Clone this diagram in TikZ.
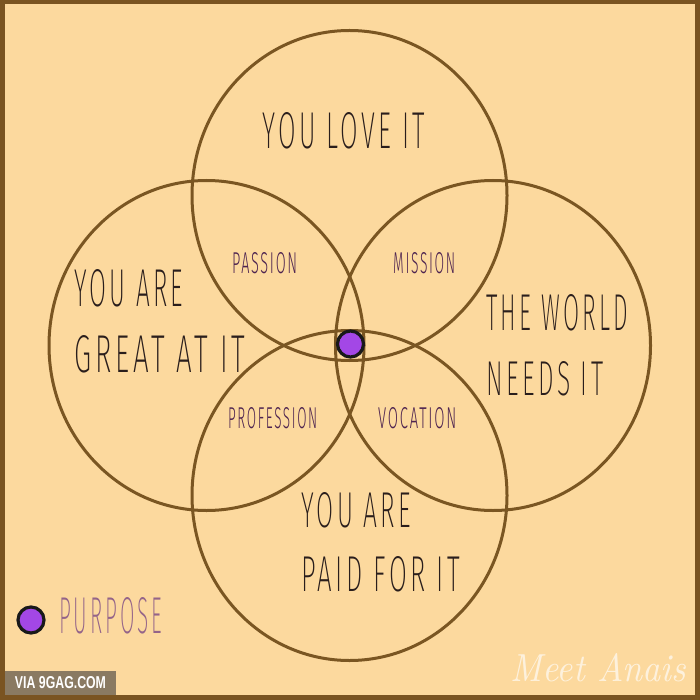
\documentclass[tikz,border=0pt]{standalone}
\usepackage{fontspec}
\newfontfamily\hand{Fira Sans ExtraLight}[LetterSpace=14]
\newfontfamily\handsmall{Fira Sans Light}[LetterSpace=12]
\newfontfamily\gagfont{Liberation Sans}
\definecolor{bgc}{HTML}{FCD99E}
\definecolor{framec}{HTML}{7A5421}
\definecolor{ringc}{HTML}{7A5622}
\definecolor{inkc}{HTML}{2A1E1C}
\definecolor{plabc}{HTML}{4E2450}
\definecolor{purpc}{HTML}{946489}
\definecolor{dotc}{HTML}{A347E6}
\definecolor{gagc}{HTML}{8A7A62}
\newcommand{\fitlab}[3]{\resizebox{#1pt}{#2pt}{\hand #3}}
\newcommand{\fitsmall}[3]{\resizebox{#1pt}{#2pt}{\handsmall #3}}
\tikzset{
  ring/.style={draw=ringc, line width=3pt},
  mainlab/.style={inner sep=0pt, anchor=west, text=inkc},
  overlab/.style={inner sep=0pt, anchor=west, text=plabc},
  dotnode/.style={circle, fill=dotc, draw=black!90, line width=3.2pt, minimum size=26pt, inner sep=0pt},
}
\begin{document}
\begin{tikzpicture}[x=1pt,y=-1pt]
\useasboundingbox (0,0) rectangle (700,700);
\fill[framec] (0,0) rectangle (700,700);
\fill[bgc] (5,4.5) rectangle (695,695);
% rings
\draw[ring] (349.5,195.5) ellipse [x radius=157.5pt, y radius=165pt];
\draw[ring] (206.5,345.5) ellipse [x radius=157.5pt, y radius=165pt];
\draw[ring] (493,345.5) ellipse [x radius=157.5pt, y radius=165pt];
\draw[ring] (349.5,495.5) ellipse [x radius=157.5pt, y radius=165pt];
% main labels
\node[mainlab] (love) at (262,131) {\fitlab{163}{36}{YOU LOVE IT}};
\node[mainlab] (great1) at (74,288.5) {\fitlab{109}{37}{YOU ARE}};
\node[mainlab] (great2) at (74,354.5) {\fitlab{171}{37}{GREAT AT IT}};
\node[mainlab] (world1) at (486,313) {\fitlab{142}{36}{THE WORLD}};
\node[mainlab] (world2) at (486,379) {\fitlab{117}{34}{NEEDS IT}};
\node[mainlab] (paid1) at (301,510.5) {\fitlab{110}{35}{YOU ARE}};
\node[mainlab] (paid2) at (301,574.5) {\fitlab{159}{35}{PAID FOR IT}};
% overlap labels
\node[overlab] (passion) at (232,263.5) {\fitsmall{65}{21}{PASSION}};
\node[overlab] (mission) at (393,263.5) {\fitsmall{62}{21}{MISSION}};
\node[overlab] (profession) at (228,418.5) {\fitsmall{89}{21}{PROFESSION}};
\node[overlab] (vocation) at (378,418.5) {\fitsmall{78}{21}{VOCATION}};
% purpose dot
\node[dotnode] (centre) at (350.5,344) {};
% legend
\node[dotnode] (legdot) at (31,620) {};
\node[inner sep=0pt, anchor=west, text=purpc] (purpose) at (59,616) {\fitlab{103}{36}{PURPOSE}};
% 9gag box
\fill[gagc] (5,671) rectangle (116,695);
\node[inner sep=0pt, text=white] (gag) at (60.5,683) {\resizebox{91pt}{12pt}{\gagfont\bfseries VIA 9GAG.COM}};
% signature
\node[inner sep=0pt, text=white, opacity=0.65] (sig) at (598,668) {\resizebox{175pt}{28pt}{\itshape Meet Anais}};
\end{tikzpicture}
\end{document}
